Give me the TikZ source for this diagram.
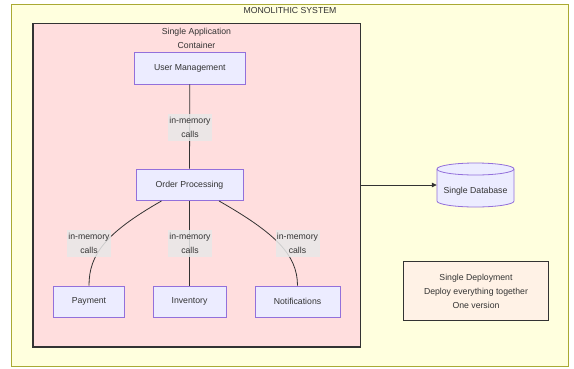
\documentclass[tikz,border=0pt]{standalone}
\usepackage{fontspec}
\setmainfont{Liberation Sans}
\usetikzlibrary{arrows.meta}
\definecolor{sysfill}{HTML}{FFFFDE}
\definecolor{sysline}{HTML}{AAAA33}
\definecolor{appfill}{HTML}{FFDEDE}
\definecolor{boxfill}{HTML}{ECECFF}
\definecolor{boxline}{HTML}{9370DB}
\definecolor{lblfill}{HTML}{E8E8E8}
\definecolor{depfill}{HTML}{FFF2E6}
\definecolor{txt}{HTML}{333333}

\begin{document}
\begin{tikzpicture}[x=1pt,y=-1pt,font=\fontsize{8.7}{14}\selectfont,text=txt,
  box/.style={draw=boxline,fill=boxfill,line width=0.8pt,minimum height=31.5pt,inner sep=0pt},
  lbl/.style={fill=lblfill,fill opacity=0.85,text opacity=1,align=center,minimum width=44pt,minimum height=27.5pt,inner sep=0pt},
  link/.style={draw=txt,line width=0.8pt}]
\useasboundingbox (0,0) rectangle (574,368);
\node[draw=sysline,fill=sysfill,line width=0.8pt,minimum width=557.4pt,minimum height=362.5pt] (sys) at (290,185.2) {};
\node (systitle) at (290,10) {MONOLITHIC SYSTEM};
\node[draw=txt,fill=appfill,line width=1.6pt,minimum width=327.6pt,minimum height=323.4pt] (app) at (196.5,185) {};
\node[align=center] (apptitle) at (196.5,38.2) {Single Application\\Container};
\node[box,minimum width=111pt] (um) at (189.8,68.2) {User Management};
\node[box,minimum width=107pt] (op) at (189.5,184.8) {Order Processing};
\node[box,minimum width=71.4pt] (pay) at (89,301.7) {Payment};
\node[box,minimum width=73pt] (inv) at (189.5,301.7) {Inventory};
\node[box,minimum width=85pt] (notif) at (297.5,301.7) {Notifications};
% database drum
\coordinate (dbc) at (475.5,185);
\draw[draw=boxline,fill=boxfill,line width=0.8pt] ([shift={(-38.5,-16)}]dbc) -- ++(0,32)
  arc[start angle=180,end angle=360,x radius=38.5pt,y radius=6pt] -- ++(0,-32)
  arc[start angle=0,end angle=180,x radius=38.5pt,y radius=6pt] -- cycle;
\draw[draw=boxline,line width=0.8pt] ([shift={(-38.5,-16)}]dbc) arc[start angle=180,end angle=360,x radius=38.5pt,y radius=6pt];
\node[minimum width=77pt,minimum height=44pt,inner sep=0pt,text height=19pt,text depth=2pt] (db) at (dbc) {Single Database};
\node[draw=txt,fill=depfill,line width=0.8pt,minimum width=145.4pt,minimum height=59pt,align=center] (deploy) at (476,291.2) {Single Deployment\\Deploy everything together\\One version};
% in-memory calls
\draw[link] (um) -- (op);
\draw[link] (op) -- (inv);
\draw[link] ([xshift=-28pt]op.south) .. controls +(-56,32) and +(0,-31) .. (pay.north);
\draw[link] ([xshift=29.5pt]op.south) .. controls +(56,32) and +(0,-31) .. (notif.north);
\node[lbl] (c1) at (190,127.3) {in-memory\\calls};
\node[lbl] (c2) at (89,243.5) {in-memory\\calls};
\node[lbl] (c3) at (190,243.5) {in-memory\\calls};
\node[lbl] (c4) at (297.5,243.5) {in-memory\\calls};
\draw[link,-{Triangle[length=5pt,width=4.5pt]}] (app.east |- db.west) -- (db.west);
\end{tikzpicture}
\end{document}
